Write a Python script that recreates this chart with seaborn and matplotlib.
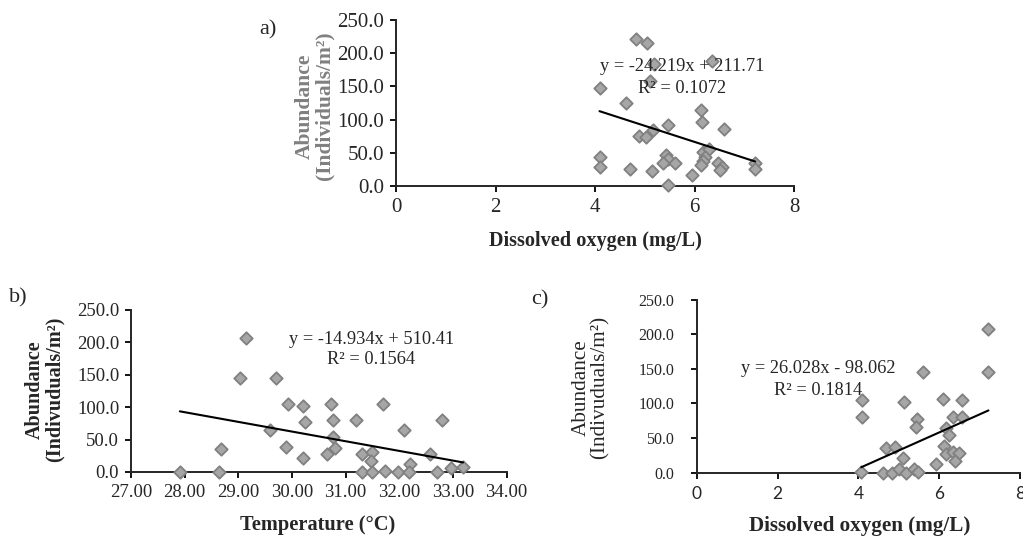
import numpy as np
import pandas as pd
import matplotlib
matplotlib.use("Agg")
import matplotlib.pyplot as plt
import seaborn as sns

# Panel a: dissolved oxygen vs abundance
do_a = [4.83, 5.04, 5.18, 5.11, 6.36, 4.09, 4.63, 6.12, 6.15, 6.59, 5.47, 5.17,
        4.89, 5.02, 4.09, 4.09, 4.70, 5.14, 5.43, 5.46, 5.36, 5.61, 5.47, 5.94,
        6.16, 6.29, 6.22, 6.18, 6.12, 6.47, 6.55, 6.52, 7.22, 7.22]
ab_a = [222, 215.5, 183, 158, 188, 147, 125, 114, 97, 86, 92, 85,
        76, 74, 43, 28, 26, 22, 47, 41, 34, 34, 2, 17,
        51, 56, 43, 37, 31, 35, 28, 24, 34, 26]

# Panel b: temperature vs abundance
temp_b = [27.91, 28.64, 28.67, 29.04, 29.14, 29.70, 29.59, 29.93, 29.88, 30.21,
          30.25, 30.21, 30.72, 30.77, 30.76, 30.66, 30.81, 31.20, 31.70, 31.31,
          31.31, 31.50, 31.48, 31.50, 31.74, 31.98, 32.09, 32.20, 32.19, 32.58,
          32.71, 32.80, 32.96, 33.19]
ab_b = [0, 0, 35.7, 145.3, 207.5, 145.3, 64.8, 104.5, 38.2, 102,
        76.5, 21.4, 104.5, 80.6, 54.6, 27, 36.7, 80.6, 104.5, 27,
        0, 30.6, 16.3, 0, 1.5, 0, 64.8, 12.7, 0, 27,
        0, 80.6, 6.6, 7.6]

# Panel c: dissolved oxygen vs abundance
do_c = [7.22, 7.22, 5.61, 4.09, 4.09, 5.12, 6.10, 6.56, 5.46, 5.42, 6.33, 6.57,
        6.17, 6.24, 6.13, 6.17, 6.34, 6.50, 6.38, 4.69, 4.90, 5.10, 5.93, 4.07,
        4.61, 4.84, 5.00, 5.19, 5.37, 5.47]
ab_c = [207, 146, 146, 105, 81, 102, 106, 105, 77, 66, 81, 81,
        65, 54, 39, 27, 30, 28, 17, 36, 37, 21, 13, 0.5,
        0, 0, 5, 0, 5, 1.5]

# trend lines as printed on the chart (slope, intercept)
fit_a = (-24.219, 211.71)
fit_b = (-14.934, 510.41)
fit_c = (26.028, -98.062)

eq_a = ["y = -24.219x + 211.71", "R² = 0.1072"]
eq_b = ["y = -14.934x + 510.41", "R² = 0.1564"]
eq_c = ["y = 26.028x - 98.062", "R² = 0.1814"]

sns.set_style("ticks")
plt.rcParams['font.family'] = ['Liberation Serif', 'DejaVu Serif']
plt.rcParams['axes.linewidth'] = 1.4

fig = plt.figure(figsize=(10.23, 5.38), dpi=100)
ax_a = fig.add_axes([0.3871, 0.6543, 0.3891, 0.3086])
ax_b = fig.add_axes([0.1281, 0.1227, 0.3671, 0.3011])
ax_c = fig.add_axes([0.6813, 0.1214, 0.3157, 0.3219])

face = '#A6A6A6'
edge = '#808080'


def panel(ax, x, y, fit, xlim, xticks, xfmt):
    df = pd.DataFrame({'x': x, 'y': y})
    sns.scatterplot(data=df, x='x', y='y', ax=ax, marker='D', s=40,
                    color=face, edgecolor=edge, linewidth=1.3, clip_on=False, zorder=3)
    xs = np.array([min(x), max(x)])
    line = pd.DataFrame({'x': xs, 'y': fit[0] * xs + fit[1]})
    sns.lineplot(data=line, x='x', y='y', ax=ax, color='black', linewidth=1.5, zorder=4)
    ax.set_xlim(*xlim)
    ax.set_ylim(0, 250)
    ax.set_xticks(xticks)
    ax.set_yticks([0, 50, 100, 150, 200, 250])
    ax.set_xticklabels([xfmt.format(t) for t in xticks])
    ax.set_yticklabels(['{:.1f}'.format(t) for t in [0, 50, 100, 150, 200, 250]])
    ax.tick_params(direction='out', length=4.5, width=1.3, color='black')
    sns.despine(ax=ax)


panel(ax_a, do_a, ab_a, fit_a, (0, 8), [0, 2, 4, 6, 8], '{:d}')
panel(ax_b, temp_b, ab_b, fit_b, (27, 34), [27, 28, 29, 30, 31, 32, 33, 34], '{:.2f}')
panel(ax_c, do_c, ab_c, fit_c, (0, 8), [0, 2, 4, 6, 8], '{:d}')

# tick label fonts
ax_a.tick_params(labelsize=15, pad=4)
ax_b.tick_params(labelsize=13.5, pad=4)
ax_c.tick_params(axis='y', labelsize=11.5, pad=12)
ax_c.tick_params(axis='x', labelsize=12.5, pad=5)
for lab in ax_c.get_xticklabels():
    lab.set_family('Lato')

# axis labels
ax_a.set_xlabel('Dissolved oxygen (mg/L)', fontsize=14.6, fontweight='bold')
ax_a.set_ylabel('Abundance\n(Individuals/m²)', fontsize=15.5, fontweight='bold',
                color='#808080', linespacing=1.0)
ax_b.set_xlabel('Temperature (°C)', fontsize=14.7, fontweight='bold')
ax_b.set_ylabel('Abundance\n(Indivuduals/m²)', fontsize=14.5, fontweight='bold',
                linespacing=1.0)
ax_c.set_xlabel('Dissolved oxygen (mg/L)', fontsize=15.2, fontweight='bold')
ax_c.set_ylabel('Abundance\n(Indivuduals/m²)', fontsize=15.3, linespacing=1.0)

ax_a.xaxis.set_label_coords(0.5, -0.27)
ax_b.xaxis.set_label_coords(0.498, -0.265)
ax_c.xaxis.set_label_coords(0.505, -0.25)
ax_a.yaxis.set_label_coords(-0.155, 0.482)
ax_b.yaxis.set_label_coords(-0.176, 0.51)
ax_c.yaxis.set_label_coords(-0.269, 0.49)

# regression equations
for ax, eq, pos in [(ax_a, eq_a, (5.75, 180, 147)),
                    (ax_b, eq_b, (31.48, 205, 173)),
                    (ax_c, eq_c, (3.0, 150, 119))]:
    ax.text(pos[0], pos[1], eq[0], ha='center', va='center', fontsize=13.2, zorder=5)
    ax.text(pos[0], pos[2], eq[1], ha='center', va='center', fontsize=13.2, zorder=5)

# panel letters
fig.text(268 / 1023, 1 - 30 / 538, 'a)', ha='center', va='center', fontsize=16)
fig.text(18 / 1023, 1 - 298 / 538, 'b)', ha='center', va='center', fontsize=16)
fig.text(540 / 1023, 1 - 300 / 538, 'c)', ha='center', va='center', fontsize=16)

fig.savefig('out.png', dpi=100)
